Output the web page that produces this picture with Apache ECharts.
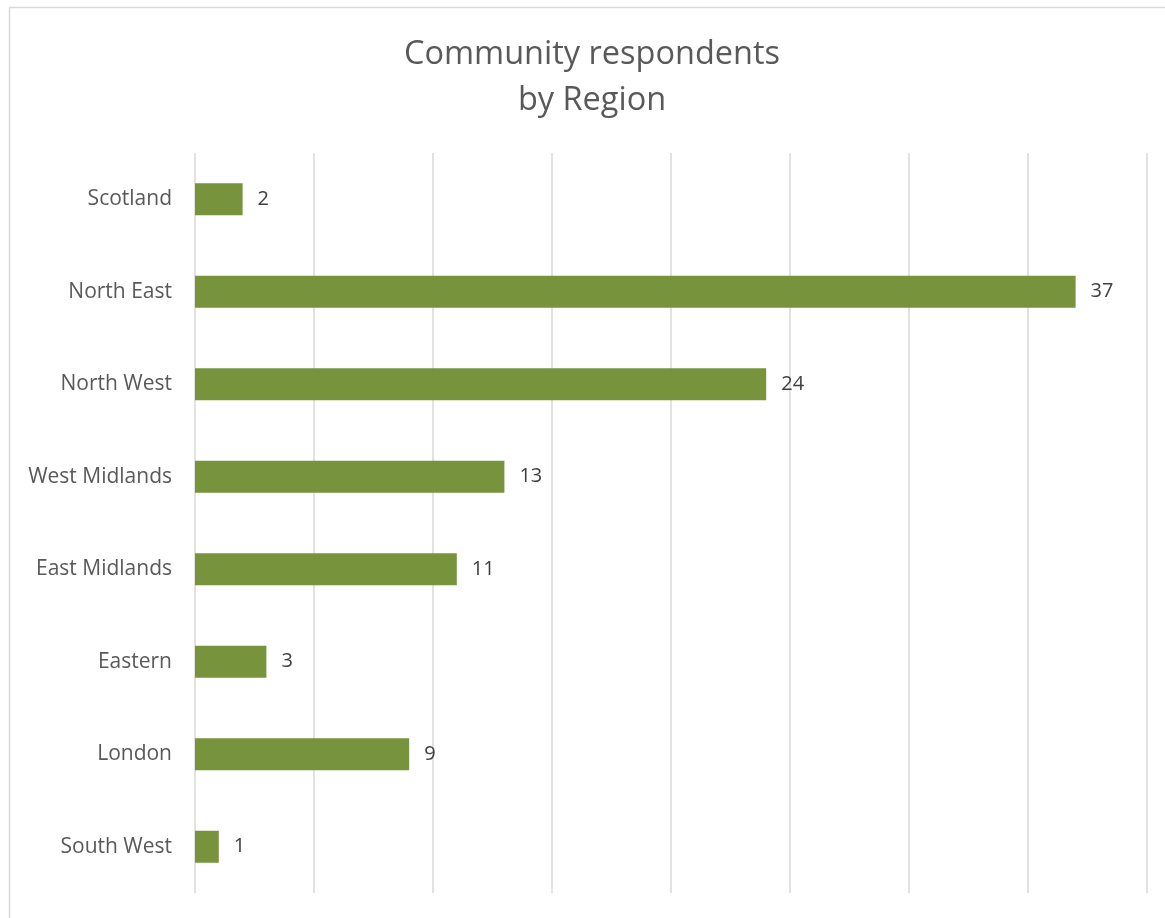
<!DOCTYPE html>
<html>
<head>
<meta charset="utf-8">
<script src="https://cdn.jsdelivr.net/npm/echarts@6/dist/echarts.min.js"></script>
<style>
  html, body { margin: 0; padding: 0; background: #fff; }
  #chart { width: 1165px; height: 918px; }
</style>
</head>
<body>
<div id="chart"></div>
<script>
// regions, top to bottom as drawn
const regions = ['Scotland', 'North East', 'North West', 'West Midlands', 'East Midlands', 'Eastern', 'London', 'South West']
const respondents = [2, 37, 24, 13, 11, 3, 9, 1]

const chart = echarts.init(document.getElementById('chart'))
chart.setOption({
  backgroundColor: '#fff',
  textStyle: { fontFamily: 'Open Sans' },
  graphic: [{
    type: 'rect',
    shape: { x: 9.5, y: 7.5, width: 1200, height: 1000 },
    style: { fill: 'none', stroke: '#d9d9d9', lineWidth: 1.5 },
    silent: true
  }, {
    // chart title, centred a little right of the canvas middle
    type: 'text',
    x: 592,
    y: 32,
    style: {
      text: 'Community respondents\nby Region',
      fontFamily: 'Open Sans',
      fontSize: 32.5,
      lineHeight: 46,
      fill: '#595959',
      align: 'center',
      verticalAlign: 'top'
    },
    silent: true
  }],
  grid: {
    left: 195,
    right: 18,
    top: 153,
    bottom: 25
  },
  xAxis: {
    type: 'value',
    min: 0,
    max: 40,
    interval: 5,
    axisLabel: { show: false },
    axisLine: { show: false },
    axisTick: { show: false },
    splitLine: { lineStyle: { color: '#d9d9d9', width: 1.5 } }
  },
  yAxis: {
    type: 'category',
    data: regions,
    inverse: true,
    axisLine: { show: false },
    axisTick: { show: false },
    axisLabel: {
      color: '#595959',
      fontSize: 21,
      margin: 23
    }
  },
  series: [{
    type: 'bar',
    data: respondents,
    barWidth: 32,
    itemStyle: { color: '#77933C' },
    label: {
      show: true,
      position: 'right',
      distance: 15,
      color: '#404040',
      fontSize: 20
    }
  }]
})
</script>
</body>
</html>
